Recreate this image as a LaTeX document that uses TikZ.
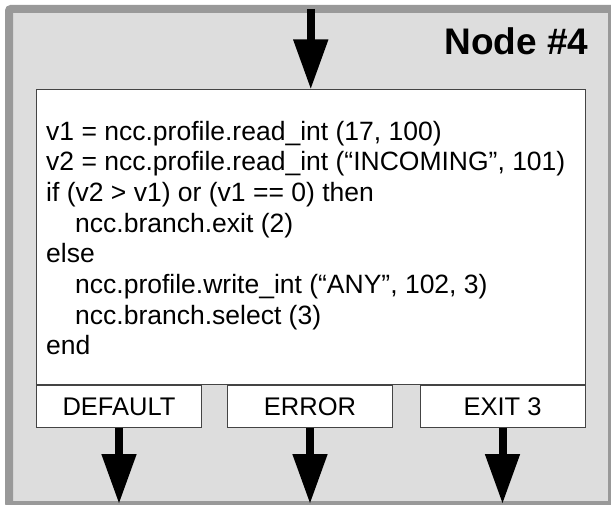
\documentclass[tikz,border=0pt]{standalone}
\usepackage{fontspec}
\setmainfont{Liberation Sans}
\usetikzlibrary{arrows.meta,positioning}
\definecolor{framegray}{HTML}{999999}
\definecolor{panelgray}{HTML}{DDDDDD}
\definecolor{edgegray}{HTML}{444444}
\tikzset{box/.style={draw=edgegray,line width=1pt,fill=white,inner sep=0pt}}
\tikzset{port/.style={box,minimum width=165pt,minimum height=41.5pt,
  text height=18.3pt,text depth=0pt,font=\fontsize{25.5}{30}\selectfont}}
\tikzset{flow/.style={line width=8pt,-{Triangle[width=33pt,length=50pt]}}}

\begin{document}
\begin{tikzpicture}
  \useasboundingbox (0,0) rectangle (611pt,504pt);
  \draw[framegray,fill=panelgray,line width=8pt,rounded corners=2pt]
    (9pt,495pt) rectangle (612pt,-1pt);
  \node[anchor=base east,font=\fontsize{37}{44}\selectfont\bfseries] (title)
    at (592pt,449pt) {Node \#4};
  \node[box,minimum width=548.5pt,minimum height=294.5pt] (code)
    at (310.75pt,266.75pt) {};
  \node[anchor=base west,align=left,inner sep=0pt,font=\fontsize{26.5}{30.7}\selectfont] (src)
    at (46pt,149pt)
    {v1 = ncc.profile.read\_int (17, 100)\\
     v2 = ncc.profile.read\_int (“INCOMING”, 101)\\
     if (v2 > v1) or (v1 == 0) then\\
     \hspace*{29pt}ncc.branch.exit (2)\\
     else\\
     \hspace*{29pt}ncc.profile.write\_int (“ANY”, 102, 3)\\
     \hspace*{29pt}ncc.branch.select (3)\\
     end};
  \node[port,anchor=north west] (dflt) at (code.south west) {DEFAULT};
  \node[port,right=25pt of dflt] (err) {ERROR};
  \node[port,anchor=north east] (exit3) at (code.south east) {EXIT 3};
  \coordinate (in) at (310.75pt,495pt);
  \coordinate (bottom) at (0,0);
  \draw[flow] (in) -- (code);
  \draw[flow] (dflt) -- (dflt |- bottom);
  \draw[flow] (err) -- (err |- bottom);
  \draw[flow] (exit3) -- (exit3 |- bottom);
\end{tikzpicture}
\end{document}
